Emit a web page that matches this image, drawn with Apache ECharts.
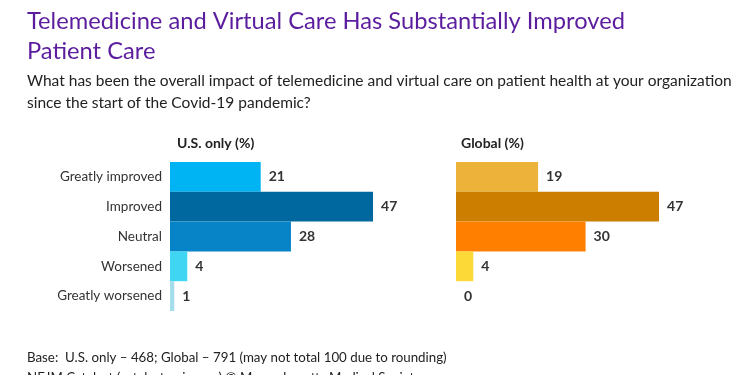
<!DOCTYPE html>
<html>
<head>
<meta charset="utf-8">
<script src="https://cdn.jsdelivr.net/npm/echarts@6/dist/echarts.min.js"></script>
<style>
  html, body { margin: 0; padding: 0; background: #fff; }
  #main { width: 750px; height: 375px; }
</style>
</head>
<body>
<div id="main"></div>
<script>
var categories = ['Greatly improved', 'Improved', 'Neutral', 'Worsened', 'Greatly worsened'];
var usValues = [21, 47, 28, 4, 1];
var globalValues = [19, 47, 30, 4, 0];
var usColors = ['#00B3F2', '#00679F', '#0783C8', '#40D5F3', '#A6DDEA'];
var globalColors = ['#ECB23A', '#CC7E00', '#FF8000', '#FCD936', '#FCD936'];

var myChart = echarts.init(document.getElementById('main'));
var fontFam = 'Lato, "Open Sans", sans-serif';

var option = {
    animation: false,
    backgroundColor: '#fff',
    textStyle: { fontFamily: fontFam },
    title: [
        {
            text: 'Telemedicine and Virtual Care Has Substantially Improved\nPatient Care',
            left: 22, top: 1,
            textStyle: { fontSize: 23.7, fontWeight: 'normal', color: '#5B1D9E', lineHeight: 30, fontFamily: fontFam }
        },
        {
            text: 'What has been the overall impact of telemedicine and virtual care on patient health at your organization\nsince the start of the Covid-19 pandemic?',
            left: 22, top: 65,
            textStyle: { fontSize: 15.5, fontWeight: 'normal', color: '#222', lineHeight: 22, fontFamily: fontFam }
        },
        {
            text: 'U.S. only (%)',
            left: 172, top: 131,
            textStyle: { fontSize: 14, fontWeight: 'bold', color: '#222', fontFamily: fontFam }
        },
        {
            text: 'Global (%)',
            left: 456, top: 131,
            textStyle: { fontSize: 14, fontWeight: 'bold', color: '#222', fontFamily: fontFam }
        },
        {
            text: 'Base:  U.S. only – 468; Global – 791 (may not total 100 due to rounding)\nNEJM Catalyst (catalyst.nejm.org) © Massachusetts Medical Society',
            left: 22, top: 343,
            textStyle: { fontSize: 13.3, fontWeight: 'normal', color: '#222', lineHeight: 20, fontFamily: fontFam }
        }
    ],
    grid: [
        { left: 170, top: 162, width: 216, height: 149 },
        { left: 456, top: 162, width: 216, height: 149 }
    ],
    xAxis: [
        { gridIndex: 0, type: 'value', min: 0, max: 50, show: false },
        { gridIndex: 1, type: 'value', min: 0, max: 50, show: false }
    ],
    yAxis: [
        {
            gridIndex: 0, type: 'category', data: categories, inverse: true,
            axisLine: { show: false }, axisTick: { show: false },
            axisLabel: { color: '#333', fontSize: 13.5, margin: 8, fontFamily: fontFam }
        },
        {
            gridIndex: 1, type: 'category', data: categories, inverse: true,
            axisLine: { show: false }, axisTick: { show: false },
            axisLabel: { show: false }
        }
    ],
    series: [
        {
            name: 'U.S. only', type: 'bar', xAxisIndex: 0, yAxisIndex: 0,
            barCategoryGap: 0,
            data: usValues.map(function (v, i) {
                return { value: v, itemStyle: { color: usColors[i] } };
            }),
            label: {
                show: true, position: 'right', distance: 8,
                color: '#333', fontWeight: 'bold', fontSize: 14, fontFamily: fontFam
            }
        },
        {
            name: 'Global', type: 'bar', xAxisIndex: 1, yAxisIndex: 1,
            barCategoryGap: 0,
            data: globalValues.map(function (v, i) {
                return { value: v, itemStyle: { color: globalColors[i] } };
            }),
            label: {
                show: true, position: 'right', distance: 8,
                color: '#333', fontWeight: 'bold', fontSize: 14, fontFamily: fontFam
            }
        }
    ]
};

myChart.setOption(option);
</script>
</body>
</html>
